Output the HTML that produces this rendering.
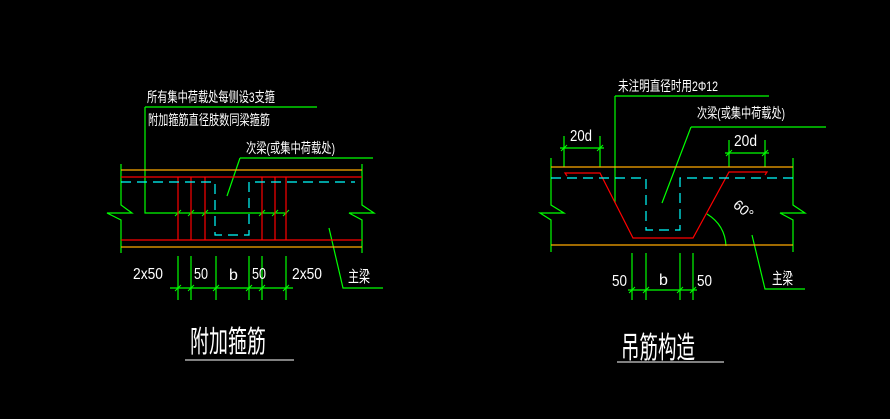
<!DOCTYPE html>
<html><head><meta charset="utf-8"><style>
html,body{margin:0;padding:0;background:#000;}
svg{display:block}
text{fill:#fff;font-family:"Liberation Sans","Noto Sans CJK SC",sans-serif;}
</style></head><body>
<svg width="890" height="419" viewBox="0 0 890 419" xmlns="http://www.w3.org/2000/svg">
<rect width="890" height="419" fill="#000"/>
<g fill="none" stroke-width="1.2">
<g stroke="#00ff00">
<polyline points="145,107 317,107"/>
<polyline points="145,107 145,213 287,213"/>
<polyline points="240,158 373,158"/>
<line x1="240" y1="158" x2="227" y2="196"/>
<polyline points="121,164 121,205 132,213 107,213 121,220 121,253"/>
<polyline points="362,164 362,205 374,213 349,213 362,220 362,253"/>
<polyline points="329,228 343,288 383,288"/>
<line x1="170" y1="288" x2="293" y2="288"/>
<line x1="178" y1="256" x2="178" y2="300"/><line x1="191" y1="256" x2="191" y2="300"/>
<line x1="216" y1="256" x2="216" y2="300"/><line x1="249" y1="256" x2="249" y2="300"/>
<line x1="262" y1="256" x2="262" y2="300"/><line x1="286" y1="256" x2="286" y2="300"/>
<g stroke-width="1"><line x1="175" y1="291" x2="181" y2="285"/><line x1="188" y1="291" x2="194" y2="285"/><line x1="213" y1="291" x2="219" y2="285"/><line x1="246" y1="291" x2="252" y2="285"/><line x1="259" y1="291" x2="265" y2="285"/><line x1="283" y1="291" x2="289" y2="285"/>
<line x1="175" y1="216" x2="181" y2="210"/><line x1="188" y1="216" x2="194" y2="210"/><line x1="202" y1="216" x2="208" y2="210"/><line x1="259" y1="216" x2="265" y2="210"/><line x1="272" y1="216" x2="278" y2="210"/><line x1="283" y1="216" x2="289" y2="210"/></g>
</g>
<line x1="121" y1="170" x2="362" y2="170" stroke="#ffaa00"/>
<line x1="121" y1="247" x2="362" y2="247" stroke="#ffaa00"/>
<line x1="121" y1="177" x2="362" y2="177" stroke="#ff0000"/>
<line x1="121" y1="240" x2="362" y2="240" stroke="#ff0000"/>
<g stroke="#ff0000"><line x1="178" y1="177" x2="178" y2="240"/><line x1="191" y1="177" x2="191" y2="240"/><line x1="205" y1="177" x2="205" y2="240"/><line x1="262" y1="177" x2="262" y2="240"/><line x1="275" y1="177" x2="275" y2="240"/><line x1="286" y1="177" x2="286" y2="240"/></g>
<g stroke="#00ffff" stroke-dasharray="10,6"><polyline points="121,182 215,182 215,235 249,235 249,182 355,182"/></g>
<g stroke="#00ff00">
<polyline points="615,96 769,96"/>
<polyline points="615,96 615,203"/>
<polyline points="691,127 826,127"/>
<line x1="691" y1="127" x2="662" y2="203"/>
<line x1="564" y1="136" x2="564" y2="167"/><line x1="600" y1="136" x2="600" y2="167"/><line x1="560" y1="148" x2="604" y2="148"/>
<line x1="729" y1="140" x2="729" y2="167"/><line x1="765" y1="140" x2="765" y2="167"/><line x1="725" y1="153" x2="769" y2="153"/>
<polyline points="551,158 551,205 564,213 540,213 551,220 551,252"/>
<polyline points="793,158 793,205 805,213 780,213 793,220 793,252"/>
<polyline points="752,235 765,289 805,289"/>
<path d="M707,214 Q725,225 726,246"/>
<line x1="628" y1="290" x2="697" y2="290"/>
<line x1="632" y1="253" x2="632" y2="300"/><line x1="646" y1="253" x2="646" y2="300"/><line x1="680" y1="253" x2="680" y2="300"/><line x1="693" y1="253" x2="693" y2="300"/>
<g stroke-width="1"><line x1="629" y1="293" x2="635" y2="287"/><line x1="643" y1="293" x2="649" y2="287"/><line x1="677" y1="293" x2="683" y2="287"/><line x1="690" y1="293" x2="696" y2="287"/>
<line x1="561" y1="151" x2="567" y2="145"/><line x1="597" y1="151" x2="603" y2="145"/><line x1="726" y1="156" x2="732" y2="150"/><line x1="762" y1="156" x2="768" y2="150"/></g>
</g>
<line x1="551" y1="167" x2="793" y2="167" stroke="#ffaa00"/>
<line x1="551" y1="245" x2="793" y2="245" stroke="#ffaa00"/>
<polyline points="567,176 565,173 600,173 633,238 693,238 729,172 767,172 765,175" stroke="#ff0000"/>
<g stroke="#00ffff" stroke-dasharray="10,6"><polyline points="551,178 646,178 646,230 680,230 680,178 793,178"/></g>
</g>
<g font-size="14">
<text x="147" y="102" textLength="128" lengthAdjust="spacingAndGlyphs">所有集中荷载处每侧设3支箍</text>
<text x="148" y="125" textLength="122" lengthAdjust="spacingAndGlyphs">附加箍筋直径肢数同梁箍筋</text>
<text x="246" y="153" textLength="89" lengthAdjust="spacingAndGlyphs">次梁(或集中荷载处)</text>
<text x="618" y="91" textLength="100" lengthAdjust="spacingAndGlyphs">未注明直径时用2Φ12</text>
<text x="697" y="118" textLength="88" lengthAdjust="spacingAndGlyphs">次梁(或集中荷载处)</text>
</g>
<g font-size="16">
<text x="133" y="279" textLength="30" lengthAdjust="spacingAndGlyphs">2x50</text>
<text x="194" y="279" textLength="14" lengthAdjust="spacingAndGlyphs">50</text>
<text x="229" y="280">b</text>
<text x="252" y="279" textLength="14" lengthAdjust="spacingAndGlyphs">50</text>
<text x="292" y="279" textLength="30" lengthAdjust="spacingAndGlyphs">2x50</text>
<text x="348" y="282" textLength="22" lengthAdjust="spacingAndGlyphs">主梁</text>
<text x="570" y="141" textLength="22" lengthAdjust="spacingAndGlyphs">20d</text>
<text x="734" y="146" textLength="23" lengthAdjust="spacingAndGlyphs">20d</text>
<text x="612" y="286" textLength="15" lengthAdjust="spacingAndGlyphs">50</text>
<text x="659" y="285">b</text>
<text x="697" y="286" textLength="15" lengthAdjust="spacingAndGlyphs">50</text>
<text x="772" y="284" textLength="21" lengthAdjust="spacingAndGlyphs">主梁</text>
<text x="728" y="212" transform="rotate(40 738 215)" font-size="14">60°</text>
</g>
<g font-size="30">
<text x="190" y="352" textLength="76" lengthAdjust="spacingAndGlyphs">附加箍筋</text>
<text x="621" y="358" textLength="74" lengthAdjust="spacingAndGlyphs">吊筋构造</text>
</g>
<line x1="185" y1="360" x2="294" y2="360" stroke="#fff"/>
<line x1="617" y1="362" x2="724" y2="362" stroke="#fff"/>
</svg>
</body></html>
